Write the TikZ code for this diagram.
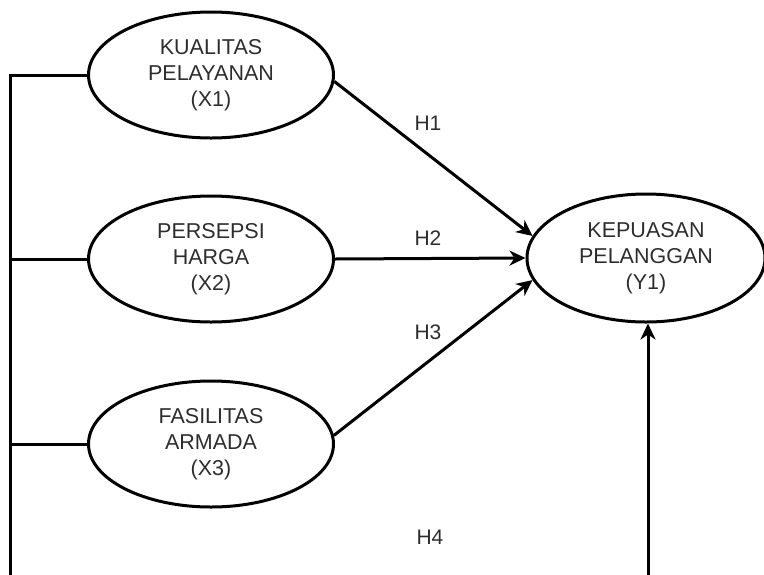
\documentclass[tikz,border=0pt]{standalone}
\usepackage{fontspec}
\setmainfont{Liberation Sans}
\usetikzlibrary{shapes.geometric,arrows.meta}
\definecolor{txt}{RGB}{45,45,45}
\tikzset{
  latent/.style={draw=black, line width=3pt, ellipse, minimum width=245pt, minimum height=126pt, inner sep=0pt, align=center, text=txt, font=\fontsize{21.5}{26}\selectfont},
  conn/.style={draw=black, line width=3pt},
  arr/.style={conn, -{Stealth[length=16pt,width=15pt,inset=5pt]}},
  hlab/.style={text=txt, font=\fontsize{21}{24}\selectfont, inner sep=0pt}
}
\begin{document}
\begin{tikzpicture}[x=1pt,y=-1pt]
\useasboundingbox (0,0) rectangle (764,574);
\begin{scope}
\clip (0,0) rectangle (764,574);
\node[latent] (X1) at (211,75) {KUALITAS\\PELAYANAN\\(X1)};
\node[latent] (X2) at (211,259) {PERSEPSI\\HARGA\\(X2)};
\node[latent] (X3) at (211,444) {FASILITAS\\ARMADA\\(X3)};
\node[latent, minimum width=238pt, minimum height=128pt] (Y1) at (646,258) {KEPUASAN\\PELANGGAN\\(Y1)};

\coordinate (lt) at (10,75);
\coordinate (lb) at (10,590);
\coordinate (rb) at (648,590);

\draw[conn] (X1.west) -- (X1.west -| lt) -- (lb);
\draw[conn] (X2.west) -- (X2.west -| lt);
\draw[conn] (X3.west) -- (X3.west -| lt);

\draw[arr] (X1.-3) -- (Y1.169);
\draw[arr] (X2.east) -- (Y1.west);
\draw[arr] (X3.4) -- (Y1.191);
\draw[arr] (rb) -- (rb |- Y1.south);

\node[hlab] (H1) at (428,123) {H1};
\node[hlab] (H2) at (428,238) {H2};
\node[hlab] (H3) at (428,332) {H3};
\node[hlab] (H4) at (430,537) {H4};
\end{scope}
\end{tikzpicture}
\end{document}
